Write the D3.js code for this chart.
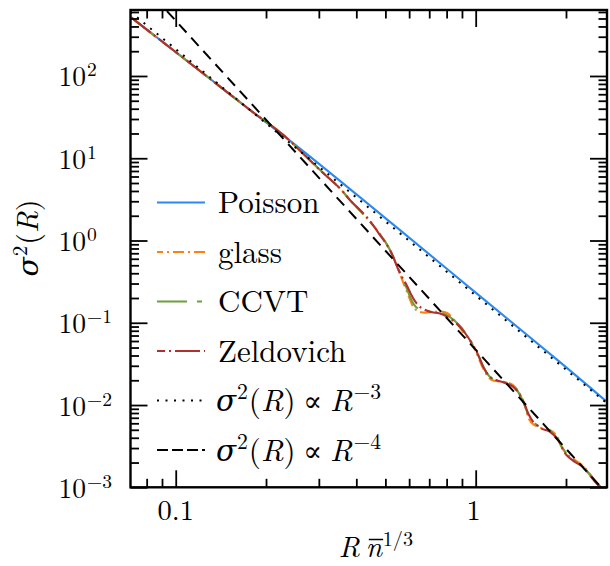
<!DOCTYPE html>
<html><head><meta charset="utf-8">
<script src="https://cdn.jsdelivr.net/npm/d3@7"></script>
<style>
body{margin:0;background:#fff}
svg{display:block}
</style>
</head><body>
<svg id="chart" width="610" height="566"></svg>
<script>
// ---------- data ----------
const poissonX = [0.0710, 0.1205, 0.1769, 0.2597, 0.5595, 1.033, 1.91, 2.74];
const poissonY = [515, 115, 38.6, 13.1, 1.338, 0.2107, 0.0332, 0.01089];

const glassX = [0.0710,0.1205,0.1769,0.2284,0.3027,0.3529,0.381,0.4331,0.4797,0.5181,0.5467,0.5725,0.5995,0.6228,0.6522,0.7042,0.7604,0.8023,0.8533,0.9072,0.9572,1.010,1.0495,1.0906,1.1332,1.205,1.2715,1.3313,1.405,1.460,1.505,1.552,1.651,1.769,1.866,1.924,2.000,2.143,2.279,2.404,2.537,2.657];
const glassY = [514,115,38.6,19.2,7.20,4.29,3.10,1.878,1.200,0.767,0.490,0.3131,0.2058,0.1512,0.1352,0.1333,0.1371,0.1315,0.1051,0.0772,0.0601,0.04174,0.02982,0.02318,0.02015,0.01933,0.01879,0.01752,0.01362,0.00973,0.00677,0.00588,0.00526,0.00497,0.0042,0.00318,0.00261,0.002147,0.001816,0.001451,0.001128,0.000953];

const ccvtX = [0.0710,0.1205,0.1769,0.2284,0.3027,0.3529,0.381,0.4331,0.4797,0.5181,0.5508,0.5813,0.6087,0.6324,0.6622,0.7151,0.7663,0.821,0.8866,0.9572,1.018,1.066,1.116,1.178,1.2715,1.342,1.405,1.460,1.505,1.564,1.663,1.769,1.881,1.94,2.015,2.143,2.279,2.404,2.537,2.657];
const ccvtY = [514,115,38.6,19.2,7.20,4.29,3.10,1.878,1.200,0.767,0.4634,0.2961,0.1945,0.1555,0.143,0.1352,0.1333,0.1175,0.0913,0.0617,0.04056,0.0282,0.02193,0.01987,0.01853,0.0168,0.01324,0.00973,0.00736,0.00613,0.00526,0.00484,0.00386,0.00309,0.00254,0.002088,0.00179,0.00141,0.001112,0.000953];

const zeldX = [0.0710,0.1205,0.1769,0.2284,0.3027,0.3529,0.381,0.4331,0.4797,0.5181,0.5595,0.5888,0.6194,0.6522,0.7042,0.7604,0.821,0.8866,0.9572,1.020,1.060,1.116,1.175,1.268,1.335,1.405,1.460,1.497,1.556,1.660,1.769,1.885,1.935,2.011,2.143,2.284,2.404,2.531,2.657];
const zeldY = [515,115,38.6,19.15,7.18,4.30,3.10,1.93,1.163,0.764,0.398,0.2867,0.1975,0.1561,0.1357,0.1297,0.1128,0.0891,0.0614,0.0404,0.02907,0.02197,0.02002,0.01827,0.0166,0.01316,0.00994,0.00788,0.00623,0.00518,0.00471,0.00373,0.00309,0.00245,0.00203,0.001766,0.0014,0.00111,0.000946];

const r3X = [0.07067, 2.74];
const r3Y = [600, 0.0105];
const r4X = [0.0707, 2.74];
const r4Y = [1880, 0.000834];

const xMajorTicks = [0.1, 1];
const xTickLabels = ["0.1", "1"];
const xMinorTicks = [0.08,0.09,0.2,0.3,0.4,0.5,0.6,0.7,0.8,0.9,2];
const yMajorTicks = [1e-3,1e-2,1e-1,1,10,100];
const yTickExps = ["\u22123","\u22122","\u22121","0","1","2"];
const yMinorTicks = [
  0.002,0.003,0.004,0.005,0.006,0.007,0.008,0.009,
  0.02,0.03,0.04,0.05,0.06,0.07,0.08,0.09,
  0.2,0.3,0.4,0.5,0.6,0.7,0.8,0.9,
  2,3,4,5,6,7,8,9,
  20,30,40,50,60,70,80,90,
  200,300,400,500,600];
const seriesNames = ["Poisson","glass","CCVT","Zeldovich"];
const seriesColors = ["#2b8af0","#ff8010","#6d9e3b","#b0302e"];
const seriesDash = [null,"11,4,2,4","30,10,5,10","25,4,2,4"];
const legendDashOffset = [0,5,0,17];

// ---------- layout ----------
const LM = "Latin Modern Roman", GR = "DejaVu Serif";
const L = 130.5, R = 607, T = 10, B = 487.3;
const svg = d3.select("#chart");
const x = d3.scaleLog().domain([0.07067, 2.74]).range([L, R]);
const y = d3.scaleLog().domain([0.001, 634]).range([B, T]);

svg.append("clipPath").attr("id","clip").append("rect")
  .attr("x",L).attr("y",T).attr("width",R-L).attr("height",B-T);

const line = d3.line().x(d=>x(d[0])).y(d=>y(d[1])).curve(d3.curveCatmullRom.alpha(0.5));
const zip = (a,b)=>a.map((v,i)=>[v,b[i]]);
const series = [zip(poissonX,poissonY), zip(glassX,glassY), zip(ccvtX,ccvtY), zip(zeldX,zeldY)];

const g = svg.append("g").attr("clip-path","url(#clip)");
series.forEach((s,i)=>{
  g.append("path").datum(s).attr("d",line).attr("fill","none")
    .attr("stroke",seriesColors[i]).attr("stroke-width",2.1)
    .attr("stroke-dasharray",seriesDash[i]);
});
g.append("path").datum(zip(r3X,r3Y)).attr("d",d3.line().x(d=>x(d[0])).y(d=>y(d[1])))
  .attr("fill","none").attr("stroke","#000").attr("stroke-width",2).attr("stroke-dasharray","2,6.5");
g.append("path").datum(zip(r4X,r4Y)).attr("d",d3.line().x(d=>x(d[0])).y(d=>y(d[1])))
  .attr("fill","none").attr("stroke","#000").attr("stroke-width",2).attr("stroke-dasharray","11,7");

// ---------- axes (inward ticks on all four sides) ----------
function ax(gen, vals, size, tx, ty){
  const a = svg.append("g").attr("transform",`translate(${tx},${ty})`)
    .call(gen.tickValues(vals).tickSize(size).tickFormat(""));
  a.select(".domain").remove();
  a.selectAll("line").attr("stroke","#000").attr("stroke-width",1.8);
}
const MAJ = 17, MIN = 8.5;
ax(d3.axisBottom(x), xMajorTicks, -MAJ, 0, B);
ax(d3.axisBottom(x), xMinorTicks, -MIN, 0, B);
ax(d3.axisTop(x), xMajorTicks, -MAJ, 0, T);
ax(d3.axisTop(x), xMinorTicks, -MIN, 0, T);
ax(d3.axisLeft(y), yMajorTicks, -MAJ, L, 0);
ax(d3.axisLeft(y), yMinorTicks, -MIN, L, 0);
ax(d3.axisRight(y), yMajorTicks, -MAJ, R, 0);
ax(d3.axisRight(y), yMinorTicks, -MIN, R, 0);

svg.append("rect").attr("x",L).attr("y",T).attr("width",R-L).attr("height",B-T)
  .attr("fill","none").attr("stroke","#000").attr("stroke-width",2.4);

// ---------- math text: sequence of text runs ----------
function mathRow(transformFn, parts, size, center){
  const grp = svg.append("g");
  let cx = 0; const pos = [];
  parts.forEach(p=>{
    cx += (p.pre||0)*size;
    const fs = p.sup ? size*0.7 : size*(p.scale||1);
    const t = grp.append("text").attr("x",cx).attr("y",p.sup ? -size*0.38 : 0)
      .attr("font-size",fs).attr("font-family",p.font||LM).attr("font-weight","normal")
      .attr("fill","#000").text(p.t);
    if(p.i) t.attr("font-style","italic");
    const w = t.node().getComputedTextLength();
    pos.push([cx, cx+w]);
    cx += w + (p.post||0)*size;
  });
  grp.attr("transform", transformFn(center ? -cx/2 : 0));
  return pos;
}

// tick labels
xMajorTicks.forEach((v,i)=>{
  svg.append("text").attr("x",x(v)-(i===1?2:0)).attr("y",520).attr("text-anchor","middle")
    .attr("font-family",LM).attr("font-size",28.5).text(xTickLabels[i]);
});
yMajorTicks.forEach((v,i)=>{
  const t = svg.append("text").attr("x",58.5).attr("y",y(v)+10.5).attr("font-family",LM).attr("font-size",27.5);
  t.append("tspan").text("10");
  t.append("tspan").attr("font-size",19.5).attr("dy",-10).attr("dx",1).text(yTickExps[i]);
});

// axis labels
const sigmaR = [
  {t:"\u03c3",i:true,font:GR,scale:0.95,post:0.03},
  {t:"2",sup:true,post:0.03},
  {t:"("},{t:"R",i:true},{t:")"}
];
mathRow(s=>`translate(38,238) rotate(-90) translate(${s},0)`, sigmaR, 30, true);

const xpos = mathRow(s=>`translate(${376+s},557)`,
  [{t:"R",i:true,post:0.2},{t:"n",i:true,post:0.02},{t:"1/3",sup:true}], 29, true);
{
  const totalW = xpos[2][1];
  const off = 376 - totalW/2;
  svg.append("line").attr("x1",off+xpos[1][0]+3).attr("x2",off+xpos[1][1]+1)
    .attr("y1",557-17.5).attr("y2",557-17.5).attr("stroke","#000").attr("stroke-width",1.5);
}

// ---------- legend ----------
const legY0 = 202.5, legDy = 49.5;
seriesNames.forEach((n,i)=>{
  const yy = legY0 + i*legDy;
  svg.append("line").attr("x1",157).attr("x2",205).attr("y1",yy).attr("y2",yy)
    .attr("stroke",seriesColors[i]).attr("stroke-width",2.1)
    .attr("stroke-dasharray",seriesDash[i]).attr("stroke-dashoffset",legendDashOffset[i]);
  svg.append("text").attr("x",218).attr("y",yy+10.5).attr("font-family",LM).attr("font-size",31).text(n);
});
const refDash = ["2,6.5","11,4"];
const refExp = ["\u22123","\u22124"];
[0,1].forEach(k=>{
  const yy = legY0 + (4+k)*legDy;
  svg.append("line").attr("x1",157).attr("x2",205).attr("y1",yy).attr("y2",yy)
    .attr("stroke","#000").attr("stroke-width",2).attr("stroke-dasharray",refDash[k]);
  mathRow(s=>`translate(${216+s},${yy+10.5})`, [
    {t:"\u03c3",i:true,font:GR,scale:0.95,post:0.03},
    {t:"2",sup:true,post:0.03},
    {t:"("},{t:"R",i:true},{t:")",post:0.25},
    {t:"\u221d",font:GR,scale:0.9,post:0.25},
    {t:"R",i:true,post:0.03},
    {t:refExp[k],sup:true}
  ], 31, false);
});
</script>
</body></html>
